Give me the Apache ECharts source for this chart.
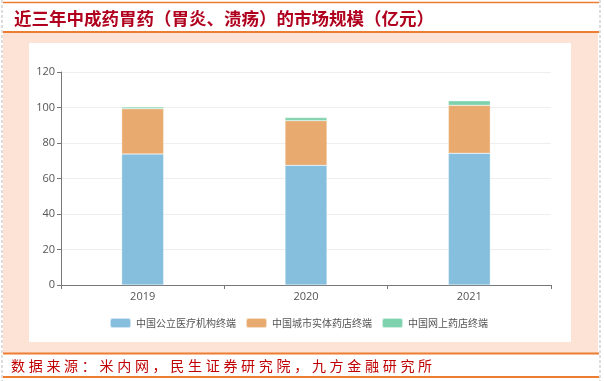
<!DOCTYPE html>
<html><head><meta charset="utf-8">
<script src="https://cdn.jsdelivr.net/npm/echarts@6/dist/echarts.min.js"></script>
<style>
html,body{margin:0;padding:0;background:#fff;}
#wrap{position:relative;width:604px;height:381px;overflow:hidden;}
#chart{position:absolute;left:0;top:0;width:604px;height:381px;}
#foot{position:absolute;left:11px;top:354px;height:22px;line-height:22px;font-family:"Noto Sans CJK SC";font-size:14px;color:#c00000;letter-spacing:3.7px;white-space:nowrap;}
</style></head>
<body><div id="wrap"><div id="chart"></div><div id="foot">数据来源：米内网，民生证券研究院，九方金融研究所</div></div>
<script>
const titleText = '近三年中成药胃药（胃炎、溃疡）的市场规模（亿元）';
const categories = ['2019', '2020', '2021'];
const seriesNames = ['中国公立医疗机构终端', '中国城市实体药店终端', '中国网上药店终端'];
const publicHospital = [73.8, 67.4, 74.2];
const cityPharmacy = [25.5, 25.2, 27.0];
const onlinePharmacy = [1.0, 1.7, 2.6];
const yTicks = [0, 20, 40, 60, 80, 100, 120];
const colors = ['#86bfdd', '#e8aa6e', '#7fd2ae'];

const chart = echarts.init(document.getElementById('chart'), null, {renderer: 'canvas'});
const seriesData = [publicHospital, cityPharmacy, onlinePharmacy];
chart.setOption({
  animation: false,
  backgroundColor: '#fff',
  color: colors,
  graphic: [
    {type: 'rect', z: -10, shape: {x: 3, y: 33, width: 595, height: 320}, style: {fill: '#fde3d6'}},
    {type: 'rect', z: -9, shape: {x: 29, y: 43, width: 542, height: 299}, style: {fill: '#ffffff'}},
    {type: 'line', shape: {x1: 3, y1: 2.5, x2: 599, y2: 2.5}, style: {stroke: '#ed7d31', lineWidth: 1.5}},
    {type: 'line', shape: {x1: 3, y1: 32, x2: 599, y2: 32}, style: {stroke: '#ed7d31', lineWidth: 2}},
    {type: 'line', shape: {x1: 3, y1: 353.5, x2: 599, y2: 353.5}, style: {stroke: '#ed7d31', lineWidth: 2}},
    {type: 'line', shape: {x1: 3, y1: 377, x2: 599, y2: 377}, style: {stroke: '#ed7d31', lineWidth: 2}},
    {type: 'line', shape: {x1: 2, y1: 0, x2: 2, y2: 381}, style: {stroke: '#bbbbbb', lineWidth: 1, lineDash: [3, 2]}},
    {type: 'line', shape: {x1: 600, y1: 0, x2: 600, y2: 381}, style: {stroke: '#bbbbbb', lineWidth: 1, lineDash: [3, 2]}}
  ],
  title: {
    text: titleText, left: 9, top: 5,
    textStyle: {fontFamily: 'Noto Sans CJK SC', fontSize: 17.5, fontWeight: 'bold', color: '#b0001e'}
  },
  legend: {
    data: seriesNames, bottom: 47, left: 104,
    itemWidth: 21, itemHeight: 10, itemGap: 9,
    icon: 'roundRect',
    textStyle: {fontFamily: 'Noto Sans CJK SC', fontSize: 10, color: '#555'}
  },
  grid: {left: 61, right: 53, top: 72, bottom: 96, containLabel: false},
  xAxis: {
    type: 'category', data: categories,
    axisLine: {lineStyle: {color: '#777'}},
    axisTick: {show: true, length: 4, lineStyle: {color: '#777'}},
    axisLabel: {color: '#555', fontSize: 11, fontFamily: 'Open Sans', margin: 6}
  },
  yAxis: {
    type: 'value', min: 0, max: 120, interval: 20,
    axisLine: {show: true, lineStyle: {color: '#777'}},
    axisTick: {show: true, length: 4, lineStyle: {color: '#777'}},
    axisLabel: {color: '#555', fontSize: 11, fontFamily: 'Open Sans', margin: 6,
      formatter: v => yTicks.includes(v) ? String(v) : ''},
    splitLine: {lineStyle: {color: '#eeeeee'}}
  },
  series: seriesNames.map((n, i) => ({
    name: n, type: 'bar', stack: 'total', barWidth: 42,
    data: seriesData[i],
    itemStyle: {color: colors[i], borderColor: 'rgba(255,255,255,0.6)', borderWidth: 0.5}
  }))
});
</script></body></html>
